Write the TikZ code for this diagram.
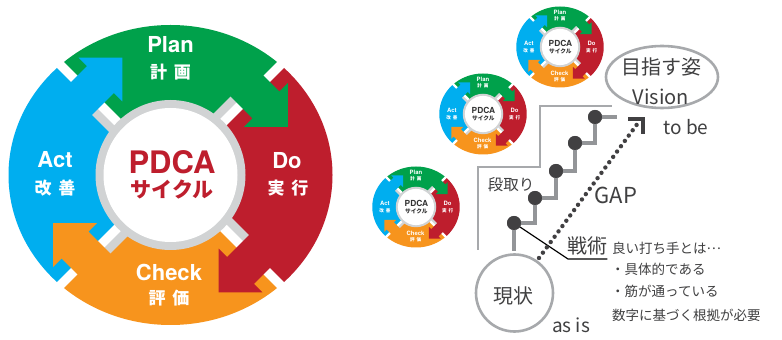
\documentclass[tikz,border=0pt]{standalone}
\usepackage{fontspec}
\setmainfont{TeX Gyre Heros}
\newfontfamily\jp{Noto Sans CJK JP}
\usetikzlibrary{shapes.geometric}
\definecolor{pgreen}{RGB}{0,161,75}
\definecolor{pred}{RGB}{190,30,45}
\definecolor{pblue}{RGB}{0,174,239}
\definecolor{porange}{RGB}{247,148,29}
\definecolor{pgray}{RGB}{209,211,212}
\definecolor{tgray}{RGB}{64,64,65}
\definecolor{lgray}{RGB}{167,169,172}
\definecolor{sgray}{RGB}{147,149,152}
\definecolor{dotc}{RGB}{65,64,66}
\definecolor{smallc}{RGB}{51,51,51}
\tikzset{
  pl/.style={inner sep=0pt, text=white, font=\bfseries\fontsize{22}{22}\selectfont},
  pj/.style={inner sep=0pt, text=white, font=\jp\bfseries\fontsize{17}{17}\selectfont},
  cl/.style={inner sep=0pt, font=\bfseries\fontsize{31}{31}\selectfont},
  cj/.style={inner sep=0pt, font=\jp\bfseries\fontsize{21}{21}\selectfont},
  rt/.style={inner sep=0pt, text=tgray, font=\jp\fontsize{#1}{#1}\selectfont},
  frameline/.style={draw=lgray, line width=2.6pt},
  stairline/.style={draw=sgray, line width=4pt},
  stairdot/.style={circle, fill=dotc, inner sep=0pt, minimum size=14pt},
  gapline/.style={draw=dotc, line width=4.4pt, line cap=round, dash pattern=on 0pt off 6.6pt},
  leader/.style={draw=black, line width=1.2pt},
}
\newcommand\pdcafig[5]{%
\begin{scope}[shift={(#1,#2)}, scale=#3, every node/.append style={transform shape}]
  \begin{scope}
    \clip (0,0) ellipse [x radius=162, y radius=150];
    \fill[pgreen] (0,0) -- (45:260) -- (90:260) -- (135:260) -- cycle;
    \fill[pblue] (0,0) -- (135:260) -- (180:260) -- (225:260) -- cycle;
    \fill[porange] (0,0) -- (225:260) -- (270:260) -- (315:260) -- cycle;
    \fill[pred] (0,0) -- (315:260) -- (0:260) -- (45:260) -- cycle;
  \end{scope}
  \foreach \a in {45,135,225,315} {
    \fill[pgray, rotate=\a] (66,0) rectangle (104,13);
    \fill[white, rotate=\a] (50,-4.5) rectangle (175,4.5);
  }
  \foreach \a/\c in {45/pgreen,135/pblue,225/porange,315/pred} {
    \fill[\c, rotate=\a] (98,22) -- (98,-18) -- (86,-18) -- (117,-49) -- (148,-18) -- (136,-18) -- (136,22) -- cycle;
  }
  \fill[pgray] (0,0) circle [radius=75];
  \fill[white] (0,0) circle [radius=67];
  \node[pl] (#5plan) at (0,130) {Plan};
  \node[pj] (#5planj) at (0,103) {計\hspace{7pt}画};
  \node[pl] (#5do) at (116.5,14) {Do};
  \node[pj] (#5doj) at (117.5,-13) {実\hspace{7pt}行};
  \node[pl] (#5act) at (-115.5,15) {Act};
  \node[pj] (#5actj) at (-115.5,-13) {改\hspace{7pt}善};
  \node[pl] (#5check) at (-1.5,-97) {Check};
  \node[pj] (#5checkj) at (-1.5,-123) {評\hspace{7pt}価};
  \node[cl, text=#4] (#5pdca) at (1.5,13) {PDCA};
  \node[cj, text=#4] (#5cycle) at (1.5,-15) {サイクル};
\end{scope}}
\begin{document}
\begin{tikzpicture}[x=1pt, y=1pt]
\useasboundingbox (0,0) rectangle (782,340);
\fill[white] (0,0) rectangle (782,340);
\pdcafig{170.5}{165}{1}{pred}{big}
\pdcafig{560}{293}{0.27}{smallc}{sa}
\pdcafig{483}{226}{0.27}{smallc}{sb}
\pdcafig{416}{133}{0.27}{smallc}{sc}
\begin{scope}[yshift=340pt, yscale=-1]
  % frame line
  \draw[frameline] (478,250) -- (478,167) -- (540,167) -- (540,106) -- (612,106);
  % stair dots (positions)
  \node[stairdot] (d1) at (514,223) {};
  \node[stairdot] (d2) at (535,198) {};
  \node[stairdot] (d3) at (556,171) {};
  \node[stairdot] (d4) at (575,143) {};
  \node[stairdot] (d5) at (595,117) {};
  % current state and vision
  \node[circle, draw=lgray, line width=2.6pt, minimum size=77pt, inner sep=0pt] (now) at (514.5,293) {};
  \node[rt=20] (nowt) at (513,296) {現状};
  \node[ellipse, draw=lgray, line width=2.6pt, minimum width=112pt, minimum height=62pt, inner sep=0pt] (vis) at (662,77) {};
  \node[rt=20] (vist) at (661,67) {目指す姿};
  \node[rt=20] (visl) at (661,97) {Vision};
  % stairs
  \coordinate (sbot) at (514,251);
  \coordinate (stop) at (617,117);
  \draw[stairline] (sbot) -- (d1.center) -| (d2.center) -| (d3.center) -| (d4.center) -| (d5.center) -- (stop);
  % leader for tactics
  \node[rt=20, anchor=west] (tac) at (567,246) {戦術};
  \coordinate (lk) at (568,259);
  \draw[leader] (d1.center) -- (lk) -- (lk -| tac.east);
  % redraw dots above lines
  \foreach \n in {d1,d2,d3,d4,d5} \fill[dotc] (\n) circle [radius=7];
  % gap arrow
  \coordinate (gs) at (539,258);
  \coordinate (ge) at (638,123);
  \coordinate (gtip) at (643,119);
  \draw[gapline] (gs) -- (ge);
  \draw[draw=dotc, line width=3.4pt] ([xshift=-15pt]gtip) -- (gtip) -- ([yshift=15pt]gtip);
  % texts
  \node[rt=15.5] (dandori) at (511,185) {段取り};
  \node[rt=22] (gap) at (616,195) {GAP};
  \node[rt=19] (tobe) at (686,127) {to be};
  \node[rt=19] (asis) at (571,325) {as is};
  \node[rt=13.5, anchor=west] (t1) at (612,248) {良い打ち手とは\raisebox{3.5pt}{…}};
  \node[rt=13.5, anchor=west] (t2) at (611,269) {・具体的である};
  \node[rt=13.5, anchor=west] (t3) at (611,291) {・筋が通っている};
  \node[rt=13.5, anchor=west] (t4) at (612,315) {数字に基づく根拠が必要};
\end{scope}
\end{tikzpicture}
\end{document}
